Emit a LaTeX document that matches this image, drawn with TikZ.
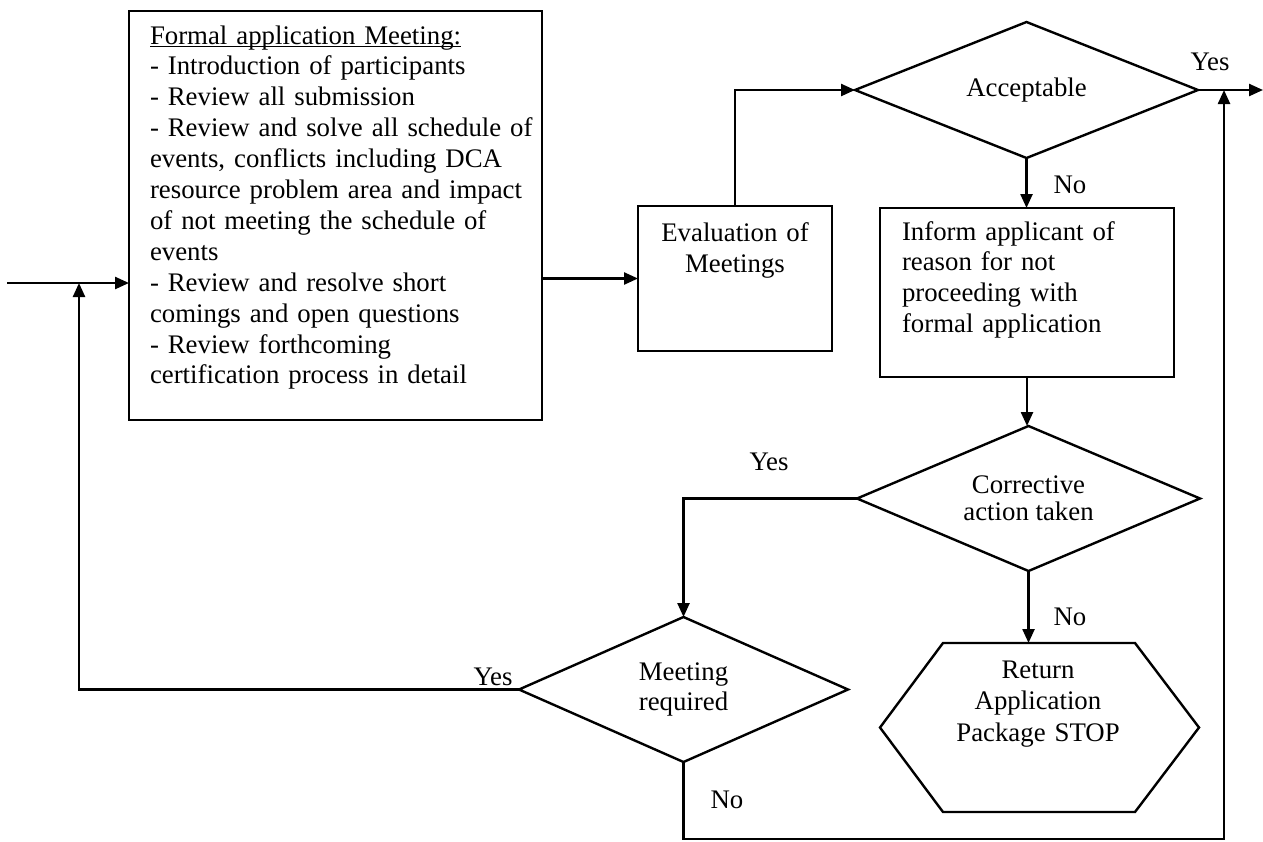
\documentclass[tikz,border=0pt]{standalone}
\usepackage{fontspec}
\setmainfont{Liberation Serif}
\usetikzlibrary{arrows.meta,shapes.geometric,calc}
\newcommand\tfont{\fontsize{13.4pt}{15.45pt}\selectfont}
\newcommand\wordul[1]{{\setbox0\hbox{#1}\rlap{\rule[-1.6pt]{\wd0}{0.6pt}}\box0}}
\begin{document}
\begin{tikzpicture}[x=0.5pt,y=-0.5pt,
  every node/.style={inner sep=0pt,outer sep=0pt,font=\tfont},
  line/.style={line width=1.2pt,line join=miter},
  arr/.style={line width=1.2pt,-{Triangle[length=7pt,width=6pt]}},
  boxnode/.style={draw,line width=1.3pt,rectangle},
  dec/.style={draw,line width=1.2pt,diamond,align=center},
  txtl/.style={align=left},
  txtc/.style={align=center}
]
\useasboundingbox (0,0) rectangle (1263,841);

% boxes
\node[boxnode, minimum width=206.5pt, minimum height=204.5pt] (formal) at (335.5,215.5) {};
\node[txtl, text width=200pt, anchor=north west] (formaltext) at (150,22.4)
 {\strut\wordul{Formal application Meeting:}\\
  - Introduction of participants\\
  - Review all submission\\
  - Review and solve all schedule of\\
  events, conflicts including DCA\\
  resource problem area and impact\\
  of not meeting the schedule of\\
  events\\
  - Review and resolve short\\
  comings and open questions\\
  - Review forthcoming\\
  certification process in detail};

\node[boxnode, minimum width=97pt, minimum height=72.5pt] (eval) at (735,278.5) {};
\node[txtc, text width=95pt, anchor=north] (evaltext) at (735,220) {\strut Evaluation of\\ Meetings};

\node[boxnode, minimum width=147pt, minimum height=84.5pt] (inform) at (1027,292.5) {};
\node[txtl, text width=140pt, anchor=north west] (informtext) at (902,218.4)
 {\strut Inform applicant of\\ reason for not\\ proceeding with\\ formal application};

% decisions
\node[dec, minimum width=171.5pt, minimum height=68pt, shape aspect=2.52] (acc) at (1026.5,90) {Acceptable};
\node[dec, minimum width=171.5pt, minimum height=72.5pt, shape aspect=2.37,
      font=\fontsize{13.4pt}{13.4pt}\selectfont] (corr) at (1028.5,498.5) {Corrective\\ action taken};
\node[dec, minimum width=164.5pt, minimum height=72.5pt, shape aspect=2.27] (meet) at (683.5,689.5) {Meeting\\ required};

% hexagon
\node[minimum width=159.5pt, minimum height=84.5pt] (stop) at (1039.5,727.5) {};
\draw[line] (stop.west) -- ($(stop.north west)+(63,0)$) -- ($(stop.north east)+(-64,0)$)
  -- (stop.east) -- ($(stop.south east)+(-64,0)$) -- ($(stop.south west)+(63,0)$) -- cycle;
\node[txtc, text width=150pt, anchor=north, font=\fontsize{13.4pt}{15.75pt}\selectfont] (stoptext) at (1038,656.4)
 {\strut Return\\ Application\\ Package STOP};

% connectors
\coordinate (inL) at (7,283);
\coordinate (loopT) at (79,283);
\coordinate (outR) at (1263,90);
\coordinate (botR) at (1224,839);
\coordinate (upR) at (1224,90);

\draw[arr] (inL) -- (inL -| formal.west);
\draw[arr] (meet.west) -| (loopT);
\draw[arr] (eval.west -| formal.east) -- (eval.west);
\draw[arr] (eval.north) |- (acc.west);
\draw[arr] (acc.east) -- (outR);
\draw[arr] (acc.south) -- (acc.south |- inform.north);
\draw[arr] (inform.south) -- (inform.south |- corr.north);
\draw[arr] (corr.west) -| (meet.north);
\draw[arr] (corr.south) -- (corr.south |- stop.north);
\draw[arr] (meet.south) |- (botR) -- (upR);

% labels
\node (yes1) at (1210,62) {Yes};
\node (no1) at (1070,185) {No};
\node (yes2) at (769,462) {Yes};
\node (no2) at (1070,617) {No};
\node (yes3) at (493,677) {Yes};
\node (no3) at (727,800) {No};
\end{tikzpicture}
\end{document}
